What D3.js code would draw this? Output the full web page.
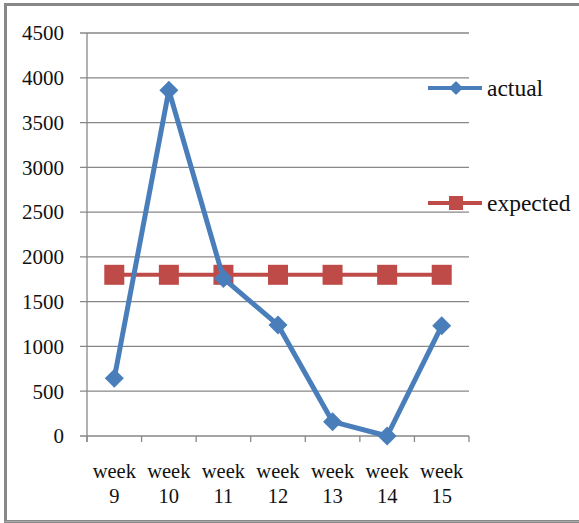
<!DOCTYPE html>
<html><head><meta charset="utf-8">
<script src="https://cdn.jsdelivr.net/npm/d3@7"></script>
<style>body{margin:0;background:#fff}svg{display:block}</style>
</head><body>
<svg id="c" width="579" height="523"></svg>
<script>
const categories = [["week","9"],["week","10"],["week","11"],["week","12"],["week","13"],["week","14"],["week","15"]];
const actual = [645, 3860, 1760, 1240, 160, 0, 1230];
const expected = [1800, 1800, 1800, 1800, 1800, 1800, 1800];
const yTicks = [0,500,1000,1500,2000,2500,3000,3500,4000,4500];
const seriesNames = ["actual","expected"];

const svg = d3.select("#c");
const font = "'Liberation Serif','Times New Roman',serif";
// frame
svg.append("rect").attr("x",5.5).attr("y",4.5).attr("width",600).attr("height",517)
  .attr("fill","none").attr("stroke","#888").attr("stroke-width",3);
svg.append("line").attr("x1",5).attr("x2",579).attr("y1",521.5).attr("y2",521.5).attr("stroke","#aaa").attr("stroke-width",1);

const L=87, R=469, T=33, B=436;
const x = d3.scaleBand().domain(categories.map((d,i)=>i)).range([L,R]);
const y = d3.scaleLinear().domain([0,4500]).range([B,T]);

// gridlines
svg.append("g").selectAll("line").data(yTicks).join("line")
  .attr("x1",L-7).attr("x2",R).attr("y1",d=>y(d)).attr("y2",d=>y(d))
  .attr("stroke","#878787").attr("stroke-width",1.3);
// y axis line
svg.append("line").attr("x1",L).attr("x2",L).attr("y1",T).attr("y2",B+6).attr("stroke","#878787").attr("stroke-width",1.3);
// x ticks
const bounds = d3.range(categories.length+1).map(i=>L+i*x.step());
svg.append("g").selectAll("line").data(bounds).join("line")
  .attr("x1",d=>d).attr("x2",d=>d).attr("y1",B).attr("y2",B+6)
  .attr("stroke","#878787").attr("stroke-width",1.3);
// y labels
svg.append("g").selectAll("text").data(yTicks).join("text")
  .attr("x",64).attr("y",d=>y(d)).attr("dy","0.35em").attr("text-anchor","end")
  .attr("font-family",font).attr("font-size",21).attr("fill","#111").text(d=>d);
// x labels
const xl = svg.append("g").selectAll("text").data(categories).join("text")
  .attr("x",(d,i)=>x(i)+x.bandwidth()/2).attr("y",478).attr("text-anchor","middle")
  .attr("font-family",font).attr("font-size",20.5).attr("fill","#111");
xl.append("tspan").attr("x",(d,i)=>x(i)+x.bandwidth()/2).text(d=>d[0]);
xl.append("tspan").attr("x",(d,i)=>x(i)+x.bandwidth()/2).attr("dy",25).text(d=>d[1]);

const cx = i=>x(i)+x.bandwidth()/2;
const line = d3.line().x((d,i)=>cx(i)).y(d=>y(d));
const blue="#4A7EBB", red="#BE4B48";
const diamond = (g,px,py,s)=>g.append("path").attr("d",`M${px},${py-s}L${px+s},${py}L${px},${py+s}L${px-s},${py}Z`).attr("fill",blue);

// expected
svg.append("path").datum(expected).attr("d",line).attr("fill","none").attr("stroke",red).attr("stroke-width",4);
svg.append("g").selectAll("rect").data(expected).join("rect")
  .attr("x",(d,i)=>cx(i)-10).attr("y",d=>y(d)-10).attr("width",20).attr("height",20).attr("fill",red);
// actual
svg.append("path").datum(actual).attr("d",line).attr("fill","none").attr("stroke",blue).attr("stroke-width",5).attr("stroke-linejoin","round");
const ga = svg.append("g");
actual.forEach((d,i)=>diamond(ga,cx(i),y(d),9.5));

// legend
const lg = svg.append("g");
lg.append("line").attr("x1",428).attr("x2",482).attr("y1",88).attr("y2",88).attr("stroke",blue).attr("stroke-width",4);
diamond(lg,456,88,7);
lg.append("text").attr("x",487).attr("y",88).attr("dy","0.35em").attr("font-family",font).attr("font-size",23.5).attr("fill","#111").text(seriesNames[0]);
lg.append("line").attr("x1",428).attr("x2",482).attr("y1",203).attr("y2",203).attr("stroke",red).attr("stroke-width",4);
lg.append("rect").attr("x",449).attr("y",196).attr("width",14).attr("height",14).attr("fill",red);
lg.append("text").attr("x",487).attr("y",203).attr("dy","0.35em").attr("font-family",font).attr("font-size",23.5).attr("fill","#111").text(seriesNames[1]);
</script>
</body></html>
